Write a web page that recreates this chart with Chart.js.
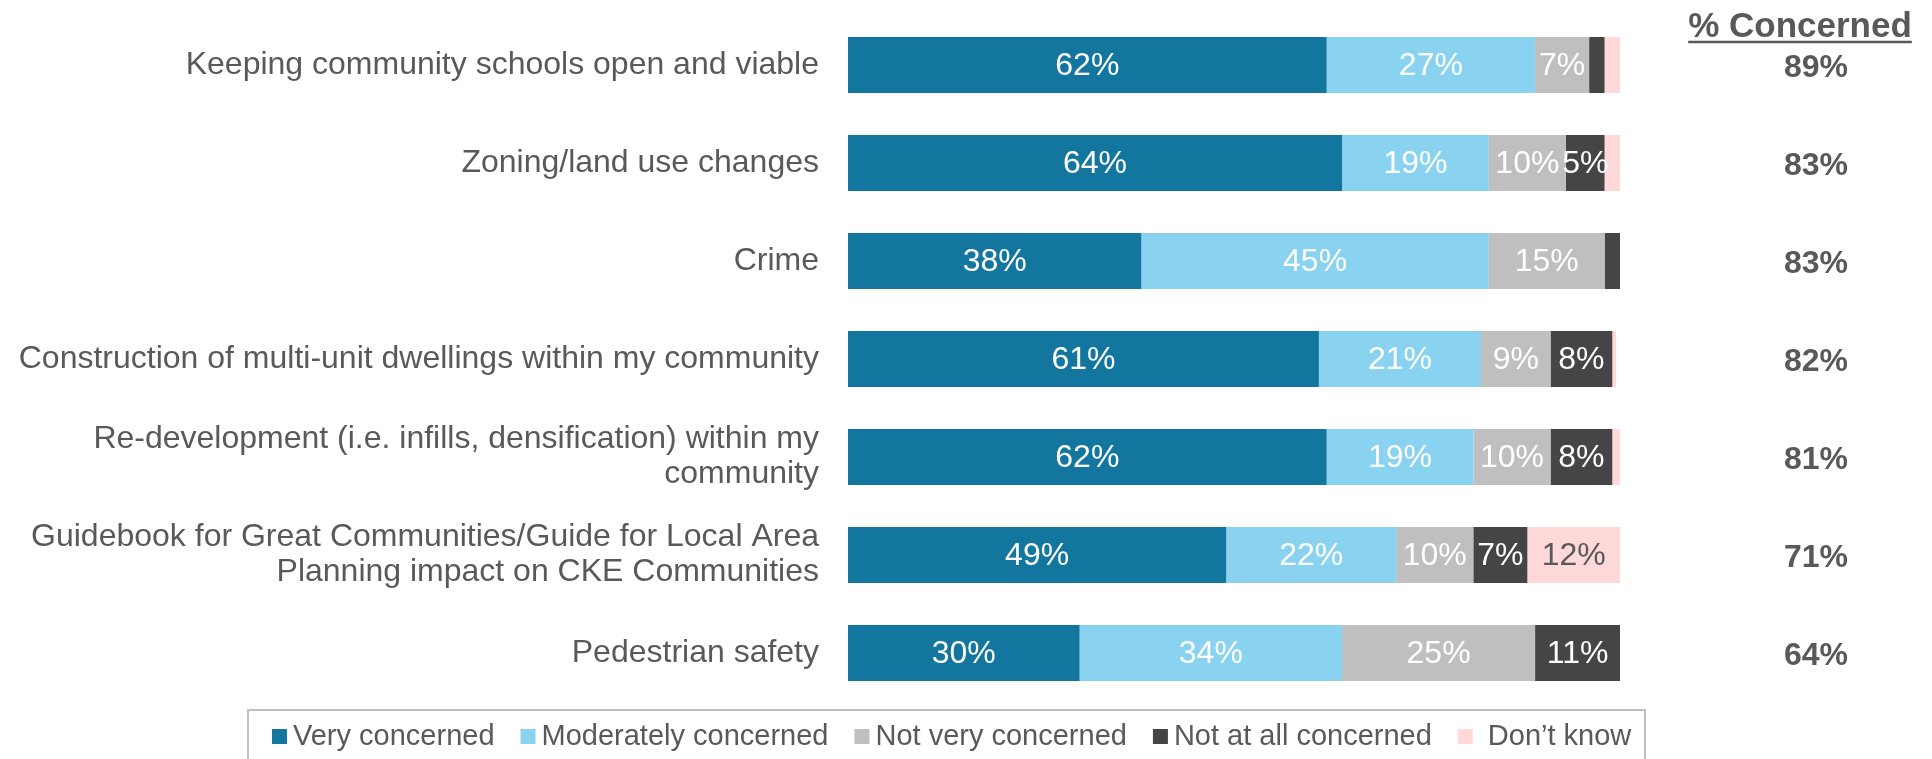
<!DOCTYPE html>
<html>
<head>
<meta charset="utf-8">
<script src="https://cdn.jsdelivr.net/npm/chart.js@4"></script>
<style>
  html, body { margin: 0; padding: 0; background: #ffffff; }
  #wrap { position: relative; width: 1932px; height: 759px; overflow: hidden; }
  canvas { display: block; }
</style>
</head>
<body>
<div id="wrap"><canvas id="c" width="1932" height="759"></canvas></div>
<script>
// ---- Data ----
const categories = [
  "Keeping community schools open and viable",
  "Zoning/land use changes",
  "Crime",
  "Construction of multi-unit dwellings within my community",
  ["Re-development (i.e. infills, densification) within my", "community"],
  ["Guidebook for Great Communities/Guide for Local Area", "Planning impact on CKE Communities"],
  "Pedestrian safety"
];
const seriesNames = ["Very concerned", "Moderately concerned", "Not very concerned", "Not at all concerned", "Don\u2019t know"];
const veryConcerned       = [62, 64, 38, 61, 62, 49, 30];
const moderatelyConcerned = [27, 19, 45, 21, 19, 22, 34];
const notVeryConcerned    = [7, 10, 15, 9, 10, 10, 25];
const notAtAllConcerned   = [2, 5, 2, 8, 8, 7, 11];
const dontKnow            = [2, 2, 0, 0.5, 1, 12, 0];
const percentConcerned    = [89, 83, 83, 82, 81, 71, 64];
const concernedHeader = "% Concerned";

const seriesColors = ["#13769F", "#89D3F0", "#BFBFBF", "#454545", "#FFD9D9"];
const labelColors  = ["#ffffff", "#ffffff", "#ffffff", "#ffffff", "#595959"];
const FONT = "'Liberation Sans', Arial, sans-serif";
const TEXT = "#595959";

const seriesValues = [veryConcerned, moderatelyConcerned, notVeryConcerned, notAtAllConcerned, dontKnow];

const datasets = seriesNames.map((name, i) => ({
  label: name,
  data: seriesValues[i],
  backgroundColor: seriesColors[i],
  borderWidth: 0,
  categoryPercentage: 1.0,
  barPercentage: 0.571
}));

// ---- Plugins ----
const segmentLabels = {
  id: 'segmentLabels',
  afterDatasetsDraw(chart) {
    const ctx = chart.ctx;
    ctx.save();
    ctx.font = "32px " + FONT;
    ctx.textAlign = 'center';
    ctx.textBaseline = 'middle';
    chart.data.datasets.forEach((ds, di) => {
      const meta = chart.getDatasetMeta(di);
      meta.data.forEach((el, i) => {
        const v = ds.data[i];
        if (v < 5) return;
        const p = el.getCenterPoint();
        ctx.fillStyle = labelColors[di];
        ctx.fillText(Math.round(v) + '%', p.x, p.y + 1);
      });
    });
    ctx.restore();
  }
};

const concernedColumn = {
  id: 'concernedColumn',
  afterDraw(chart) {
    const ctx = chart.ctx;
    const ys = chart.scales.y;
    ctx.save();
    ctx.fillStyle = TEXT;
    ctx.font = "bold 35px " + FONT;
    ctx.textAlign = 'center';
    ctx.textBaseline = 'alphabetic';
    const hx = 1800;
    ctx.fillText(concernedHeader, hx, 37);
    const w = ctx.measureText(concernedHeader).width;
    ctx.strokeStyle = TEXT;
    ctx.lineWidth = 2.5;
    ctx.beginPath();
    ctx.moveTo(hx - w / 2, 42);
    ctx.lineTo(hx + w / 2, 42);
    ctx.stroke();
    ctx.font = "bold 32px " + FONT;
    ctx.textBaseline = 'middle';
    percentConcerned.forEach((v, i) => {
      ctx.fillText(v + '%', 1816, ys.getPixelForValue(i) + 3);
    });
    ctx.restore();
  }
};

const boxLegend = {
  id: 'boxLegend',
  afterDraw(chart) {
    const ctx = chart.ctx;
    const textGap = [6, 6, 6, 6, 15];
    ctx.save();
    ctx.strokeStyle = "#BFBFBF";
    ctx.lineWidth = 2;
    ctx.strokeRect(248, 710, 1397, 100);
    ctx.font = "29px " + FONT;
    ctx.textBaseline = 'middle';
    ctx.textAlign = 'left';
    let x = 272;
    chart.data.datasets.forEach((ds, i) => {
      ctx.fillStyle = ds.backgroundColor;
      ctx.fillRect(x, 729, 15, 15);
      ctx.fillStyle = TEXT;
      const tx = x + 15 + textGap[i];
      ctx.fillText(ds.label, tx, 737);
      x = tx + ctx.measureText(ds.label).width + 26;
    });
    ctx.restore();
  }
};

new Chart(document.getElementById('c'), {
  type: 'bar',
  data: { labels: categories, datasets: datasets },
  plugins: [segmentLabels, concernedColumn, boxLegend],
  options: {
    indexAxis: 'y',
    responsive: false,
    animation: false,
    devicePixelRatio: 1,
    layout: { padding: { top: 16, bottom: 57, right: 312, left: 0 } },
    plugins: {
      legend: { display: false },
      tooltip: { enabled: false },
      title: { display: false }
    },
    scales: {
      x: { stacked: true, min: 0, max: 100, display: false },
      y: {
        stacked: true,
        grid: { display: false, drawTicks: false },
        border: { display: false },
        ticks: {
          color: TEXT,
          padding: 29,
          font: { family: FONT, size: 32, lineHeight: 1.1 }
        },
        afterFit(scale) {
          scale.width = 848;
          scale.paddingTop = 0;
          scale.paddingBottom = 0;
        }
      }
    }
  }
});
</script>
</body>
</html>
